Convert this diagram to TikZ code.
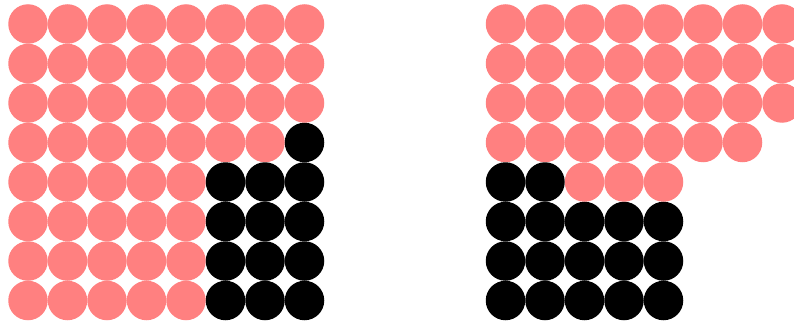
\documentclass[tikz,border=0pt]{standalone}
\definecolor{dotpink}{RGB}{255,128,128}
\tikzset{pinkdot/.style={fill=dotpink},blackdot/.style={fill=black}}
\begin{document}
\begin{tikzpicture}[x=1pt,y=-1pt]
  \useasboundingbox (0,0) rectangle (794,326);
  \clip (0,0) rectangle (794,326);
  % left grid
  \foreach \r in {0,...,7} {
    \foreach \c in {0,...,7} {
      \pgfmathtruncatemacro\isblack{(\r==3 && \c==7) || (\r>3 && \c>4)}
      \ifnum\isblack=1
        \fill[blackdot] (28+\c*39.5,24+\r*39.5) circle (19.75);
      \else
        \fill[pinkdot] (28+\c*39.5,24+\r*39.5) circle (19.75);
      \fi
    }
  }
  % right grid
  \foreach \r in {0,...,7} {
    \foreach \c in {0,...,7} {
      \pgfmathtruncatemacro\isblack{(\r==4 && \c<2) || (\r>4 && \c<5)}
      \pgfmathtruncatemacro\ispink{(\r<3) || (\r==3 && \c<7) || (\r==4 && \c<5)}
      \ifnum\isblack=1
        \fill[blackdot] (505.5+\c*39.5,24+\r*39.5) circle (19.75);
      \else\ifnum\ispink=1
        \fill[pinkdot] (505.5+\c*39.5,24+\r*39.5) circle (19.75);
      \fi\fi
    }
  }
\end{tikzpicture}
\end{document}
